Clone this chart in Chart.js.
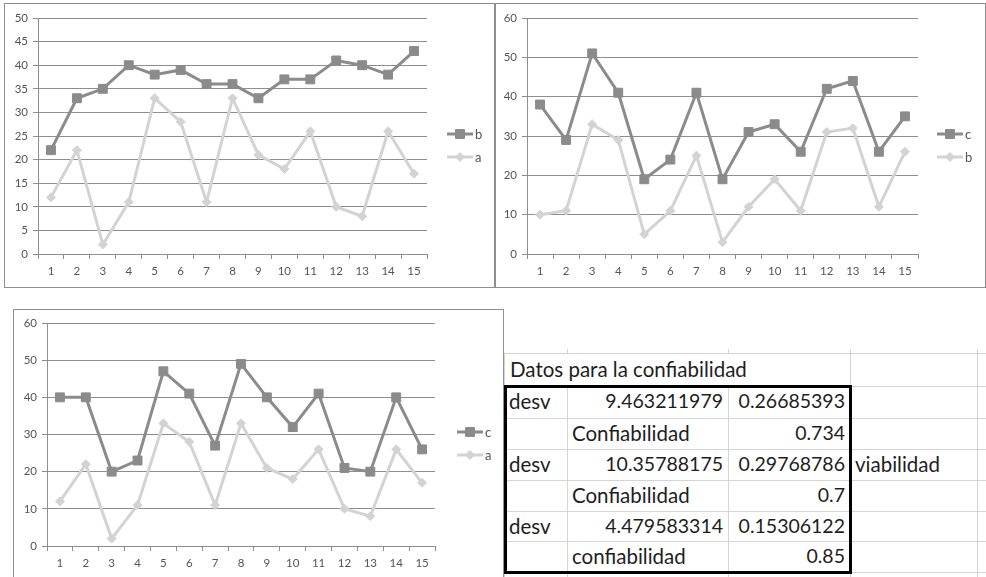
<!DOCTYPE html>
<html>
<head>
<meta charset="utf-8">
<script src="https://cdn.jsdelivr.net/npm/chart.js@4/dist/chart.umd.min.js"></script>
<style>
  html, body { margin: 0; padding: 0; background: #fff; width: 986px; height: 577px; overflow: hidden; }
  .box { position: absolute; border: 1px solid #8e8e8e; background: #fff; box-sizing: border-box; }
  .box canvas { display: block; filter: blur(0.45px); }
  .sheet { position: absolute; left: 0; top: 0; width: 986px; height: 577px; }
  .gl { position: absolute; background: #d4d4d4; }
  .cell { position: absolute; font-family: Lato, "Open Sans", sans-serif; font-size: 20.5px; color: #1e1e1e; line-height: 30px; white-space: nowrap; }
  .cell.num { font-size: 19.5px; }
  .thick { position: absolute; border: 3px solid #000; box-sizing: border-box; }
</style>
</head>
<body>
<div class="sheet" id="sheet"></div>
<div class="box" id="box1" style="left:4px;top:3px;width:491px;height:285px;"><canvas id="c1" width="489" height="283"></canvas></div>
<div class="box" id="box2" style="left:495px;top:3px;width:491px;height:285px;"><canvas id="c2" width="489" height="283"></canvas></div>
<div class="box" id="box3" style="left:13px;top:309px;width:491px;height:280px;"><canvas id="c3" width="489" height="278"></canvas></div>
<script>
// Shared x categories (sample number)
const categories = ['1','2','3','4','5','6','7','8','9','10','11','12','13','14','15'];

// Series values
const seriesA = [12, 22, 2, 11, 33, 28, 11, 33, 21, 18, 26, 10, 8, 26, 17];
const seriesB1 = [22, 33, 35, 40, 38, 39, 36, 36, 33, 37, 37, 41, 40, 38, 43];
const seriesC2 = [38, 29, 51, 41, 19, 24, 41, 19, 31, 33, 26, 42, 44, 26, 35];
const seriesB2 = [10, 11, 33, 29, 5, 11, 25, 3, 12, 19, 11, 31, 32, 12, 26];
const seriesC3 = [40, 40, 20, 23, 47, 41, 27, 49, 40, 32, 41, 21, 20, 40, 26];

// Table contents
const tableTitle = 'Datos para la confiabilidad';
const tableRows = [
  ['desv', '9.463211979', '0.26685393', ''],
  ['', 'Confiabilidad', '0.734', ''],
  ['desv', '10.35788175', '0.29768786', 'viabilidad'],
  ['', 'Confiabilidad', '0.7', ''],
  ['desv', '4.479583314', '0.15306122', ''],
  ['', 'confiabilidad', '0.85', '']
];

const DARK = '#8b8b8b';
const LIGHT = '#d3d3d3';
const GRID = '#8e8e8e';
const TICK_FONT = { family: 'Lato, "Open Sans", sans-serif', size: 11.5 };

// Excel-style legend: short line with the series marker, label to the right
const sideLegend = {
  id: 'sideLegend',
  afterDraw(chart, args, opts) {
    const ctx = chart.ctx;
    chart.data.datasets.forEach((ds, i) => {
      const y = opts.y + i * opts.gap;
      ctx.save();
      ctx.strokeStyle = ds.borderColor;
      ctx.fillStyle = ds.backgroundColor;
      ctx.lineWidth = ds.borderWidth;
      ctx.beginPath();
      ctx.moveTo(opts.x, y);
      ctx.lineTo(opts.x + opts.len, y);
      ctx.stroke();
      ctx.lineWidth = 1;
      Chart.helpers.drawPoint(ctx, { pointStyle: ds.pointStyle, radius: ds.pointRadius, rotation: 0, borderWidth: 1 }, opts.x + opts.len / 2, y);
      ctx.fillStyle = '#555';
      ctx.font = '13px Lato, "Open Sans", sans-serif';
      ctx.textBaseline = 'middle';
      ctx.textAlign = 'left';
      ctx.fillText(ds.label, opts.x + opts.len + 2, y + 0.5);
      ctx.restore();
    });
  }
};

function makeChart(id, cfg) {
  const darkSet = {
    label: cfg.darkLabel, data: cfg.dark,
    borderColor: DARK, backgroundColor: DARK, borderWidth: 3,
    pointStyle: 'rect', pointRadius: 6.3, pointBorderWidth: 1,
    pointBackgroundColor: DARK, pointBorderColor: DARK, tension: 0
  };
  const lightSet = {
    label: cfg.lightLabel, data: cfg.light,
    borderColor: LIGHT, backgroundColor: LIGHT, borderWidth: 3,
    pointStyle: 'rectRot', pointRadius: 4.5, pointBorderWidth: 1,
    pointBackgroundColor: LIGHT, pointBorderColor: LIGHT, tension: 0
  };
  return new Chart(document.getElementById(id), {
    type: 'line',
    data: { labels: categories, datasets: [darkSet, lightSet] },
    options: {
      responsive: false,
      animation: false,
      events: [],
      layout: { padding: { left: 0, top: cfg.area.top, right: cfg.area.right, bottom: 0 } },
      plugins: {
        legend: { display: false },
        tooltip: { enabled: false },
        sideLegend: cfg.legend
      },
      scales: {
        x: {
          offset: true,
          grid: { offset: true, drawOnChartArea: false, drawTicks: true, tickLength: 5, color: GRID },
          border: { display: true, color: GRID, width: 1 },
          ticks: { font: TICK_FONT, color: '#555', padding: 5, maxRotation: 0, autoSkip: false },
          afterFit(scale) { scale.height = cfg.area.xHeight; }
        },
        y: {
          min: 0, max: cfg.max,
          grid: { color: GRID, lineWidth: 1, tickLength: 5 },
          border: { display: true, color: GRID, width: 1 },
          ticks: { stepSize: cfg.step, font: TICK_FONT, color: '#555', padding: 5 },
          afterFit(scale) { scale.width = cfg.area.left; }
        }
      }
    },
    plugins: [sideLegend]
  });
}

makeChart('c1', {
  dark: seriesB1, light: seriesA, darkLabel: 'b', lightLabel: 'a', max: 50, step: 5,
  area: { left: 33, top: 14, right: 67, xHeight: 33 },
  legend: { x: 442, y: 130, gap: 23, len: 26 }
});
makeChart('c2', {
  dark: seriesC2, light: seriesB2, darkLabel: 'c', lightLabel: 'b', max: 60, step: 10,
  area: { left: 31, top: 14, right: 67, xHeight: 33 },
  legend: { x: 441, y: 130, gap: 23, len: 26 }
});
makeChart('c3', {
  dark: seriesC3, light: seriesA, darkLabel: 'c', lightLabel: 'a', max: 60, step: 10,
  area: { left: 33, top: 13, right: 68, xHeight: 42 },
  legend: { x: 443, y: 122, gap: 23, len: 26 }
});

// Spreadsheet block with the reliability figures
(function buildSheet() {
  const sheet = document.getElementById('sheet');
  const colEdges = [504, 567, 728, 850, 977];
  const rowEdges = [353, 386, 418, 449, 480, 511, 541, 572];
  const add = (cls, style, text) => {
    const d = document.createElement('div');
    d.className = cls;
    Object.assign(d.style, style);
    if (text !== undefined) d.textContent = text;
    sheet.appendChild(d);
    return d;
  };
  // horizontal gridlines
  rowEdges.forEach(y => add('gl', { left: colEdges[0] + 'px', top: y + 'px', width: (986 - colEdges[0]) + 'px', height: '1px' }));
  // vertical gridlines (title row keeps its text spilling across the first three columns)
  colEdges.forEach((x, ci) => {
    if (ci === 1 || ci === 2) {
      add('gl', { left: x + 'px', top: '349px', width: '1px', height: (rowEdges[0] - 349) + 'px' });
      add('gl', { left: x + 'px', top: rowEdges[1] + 'px', width: '1px', height: (577 - rowEdges[1]) + 'px' });
    } else {
      add('gl', { left: x + 'px', top: (ci === 0 ? rowEdges[0] : 349) + 'px', width: '1px', height: (577 - (ci === 0 ? rowEdges[0] : 349)) + 'px' });
    }
  });
  // title
  add('cell', { left: '510px', top: (rowEdges[0] + 1) + 'px' }, tableTitle);
  // body rows
  tableRows.forEach((row, ri) => {
    const top = rowEdges[ri + 1];
    row.forEach((txt, ci) => {
      if (!txt) return;
      const numeric = /^[0-9.]+$/.test(txt);
      if (numeric) {
        add('cell num', { right: (986 - colEdges[ci + 1] + 5) + 'px', top: top + 'px', textAlign: 'right' }, txt);
      } else {
        add('cell', { left: (colEdges[ci] + 5) + 'px', top: top + 'px' }, txt);
      }
    });
  });
  // heavy outline around the data rows
  add('thick', { left: '504px', top: '385px', width: '348px', height: '189px' });
})();
</script>
</body>
</html>
